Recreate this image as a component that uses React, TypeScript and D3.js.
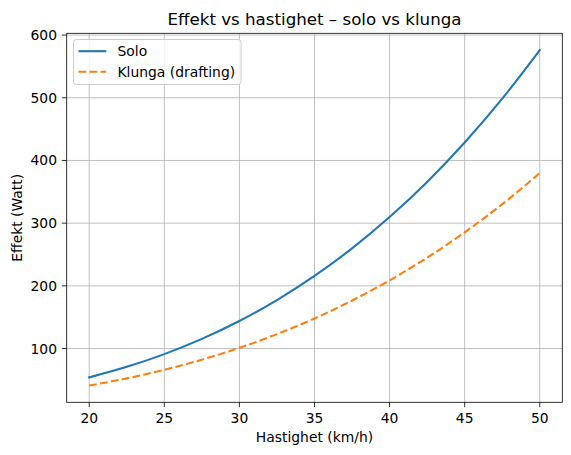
import React from 'react';
import * as d3 from 'd3';

const speeds = [20, 22.5, 25, 27.5, 30, 32.5, 35, 37.5, 40, 42.5, 45, 47.5, 50];
const soloPower = [54.0, 70.8, 91.1, 115.4, 144.0, 177.3, 215.8, 259.8, 309.7, 365.8, 428.7, 498.6, 576.1];
const klungaPower = [41.0, 52.4, 66.1, 82.2, 101.1, 123.0, 148.0, 176.6, 208.8, 245.0, 285.4, 330.3, 379.9];
const xTicks = [20, 25, 30, 35, 40, 45, 50];
const yTicks = [100, 200, 300, 400, 500, 600];
const seriesNames = ['Solo', 'Klunga (drafting)'];
const titleText = 'Effekt vs hastighet – solo vs klunga';
const xLabel = 'Hastighet (km/h)';
const yLabel = 'Effekt (Watt)';

const W = 571;
const H = 455;
const L = 66.7;
const R = 562.3;
const T = 33.3;
const B = 402.3;
const FONT = 'DejaVu Sans, sans-serif';
const FS = 13.89;

export default function App() {
  const xMin = d3.min(speeds)!;
  const xMax = d3.max(speeds)!;
  const xPad = (xMax - xMin) * 0.05;
  const allY = [...soloPower, ...klungaPower];
  const yMin = d3.min(allY)!;
  const yMax = d3.max(allY)!;
  const yPad = (yMax - yMin) * 0.05;

  const x = d3.scaleLinear().domain([xMin - xPad, xMax + xPad]).range([L, R]);
  const y = d3.scaleLinear().domain([yMin - yPad, yMax + yPad]).range([B, T]);

  const line = d3
    .line<[number, number]>()
    .x((d) => x(d[0]))
    .y((d) => y(d[1]))
    .curve(d3.curveMonotoneX);

  const soloPath = line(speeds.map((s, i) => [s, soloPower[i]]))!;
  const klungaPath = line(speeds.map((s, i) => [s, klungaPower[i]]))!;

  const lw = 2.08;
  const colors = ['#1f77b4', '#ff7f0e'];

  return (
    <svg
      width={W}
      height={H}
      viewBox={`0 0 ${W} ${H}`}
      style={{ position: 'absolute', left: 0, top: 0, background: '#fff' }}
      fontFamily={FONT}
    >
      <rect x={0} y={0} width={W} height={H} fill="#fff" />
      {/* grid */}
      {xTicks.map((t) => (
        <line key={'gx' + t} x1={x(t)} x2={x(t)} y1={T} y2={B} stroke="#b0b0b0" strokeWidth={0.8} />
      ))}
      {yTicks.map((t) => (
        <line key={'gy' + t} x1={L} x2={R} y1={y(t)} y2={y(t)} stroke="#b0b0b0" strokeWidth={0.8} />
      ))}
      {/* lines */}
      <path d={soloPath} fill="none" stroke={colors[0]} strokeWidth={lw} strokeLinecap="square" />
      <path
        d={klungaPath}
        fill="none"
        stroke={colors[1]}
        strokeWidth={lw}
        strokeDasharray="7.7,3.33"
      />
      {/* frame */}
      <rect x={L} y={T} width={R - L} height={B - T} fill="none" stroke="#000" strokeWidth={0.8} />
      {/* x ticks */}
      {xTicks.map((t) => (
        <g key={'xt' + t}>
          <line x1={x(t)} x2={x(t)} y1={B} y2={B + 4.86} stroke="#000" strokeWidth={0.8} />
          <text x={x(t)} y={422.5} fontSize={FS} textAnchor="middle" fill="#000">
            {t}
          </text>
        </g>
      ))}
      {/* y ticks */}
      {yTicks.map((t) => (
        <g key={'yt' + t}>
          <line x1={L - 4.86} x2={L} y1={y(t)} y2={y(t)} stroke="#000" strokeWidth={0.8} />
          <text x={L - 9.72} y={y(t)} dy="0.36em" fontSize={FS} textAnchor="end" fill="#000">
            {t}
          </text>
        </g>
      ))}
      {/* labels */}
      <text x={(L + R) / 2} y={441.5} fontSize={FS} textAnchor="middle" fill="#000">
        {xLabel}
      </text>
      <text
        transform={`translate(21.7, ${(T + B) / 2}) rotate(-90)`}
        fontSize={FS}
        textAnchor="middle"
        fill="#000"
      >
        {yLabel}
      </text>
      <text x={(L + R) / 2} y={25} fontSize={16.67} textAnchor="middle" fill="#000">
        {titleText}
      </text>
      {/* legend */}
      <rect
        x={73.5}
        y={39.5}
        width={167.5}
        height={45}
        rx={2.8}
        fill="#fff"
        fillOpacity={0.8}
        stroke="#cccccc"
        strokeWidth={1}
      />
      {seriesNames.map((name, i) => {
        const ly = 51.2 + i * 20.6;
        return (
          <g key={name}>
            <line
              x1={78.5}
              x2={106.3}
              y1={ly}
              y2={ly}
              stroke={colors[i]}
              strokeWidth={lw}
              strokeDasharray={i === 1 ? '7.7,3.33' : undefined}
            />
            <text x={117.5} y={ly + 4.9} fontSize={FS} fill="#000">
              {name}
            </text>
          </g>
        );
      })}
    </svg>
  );
}
